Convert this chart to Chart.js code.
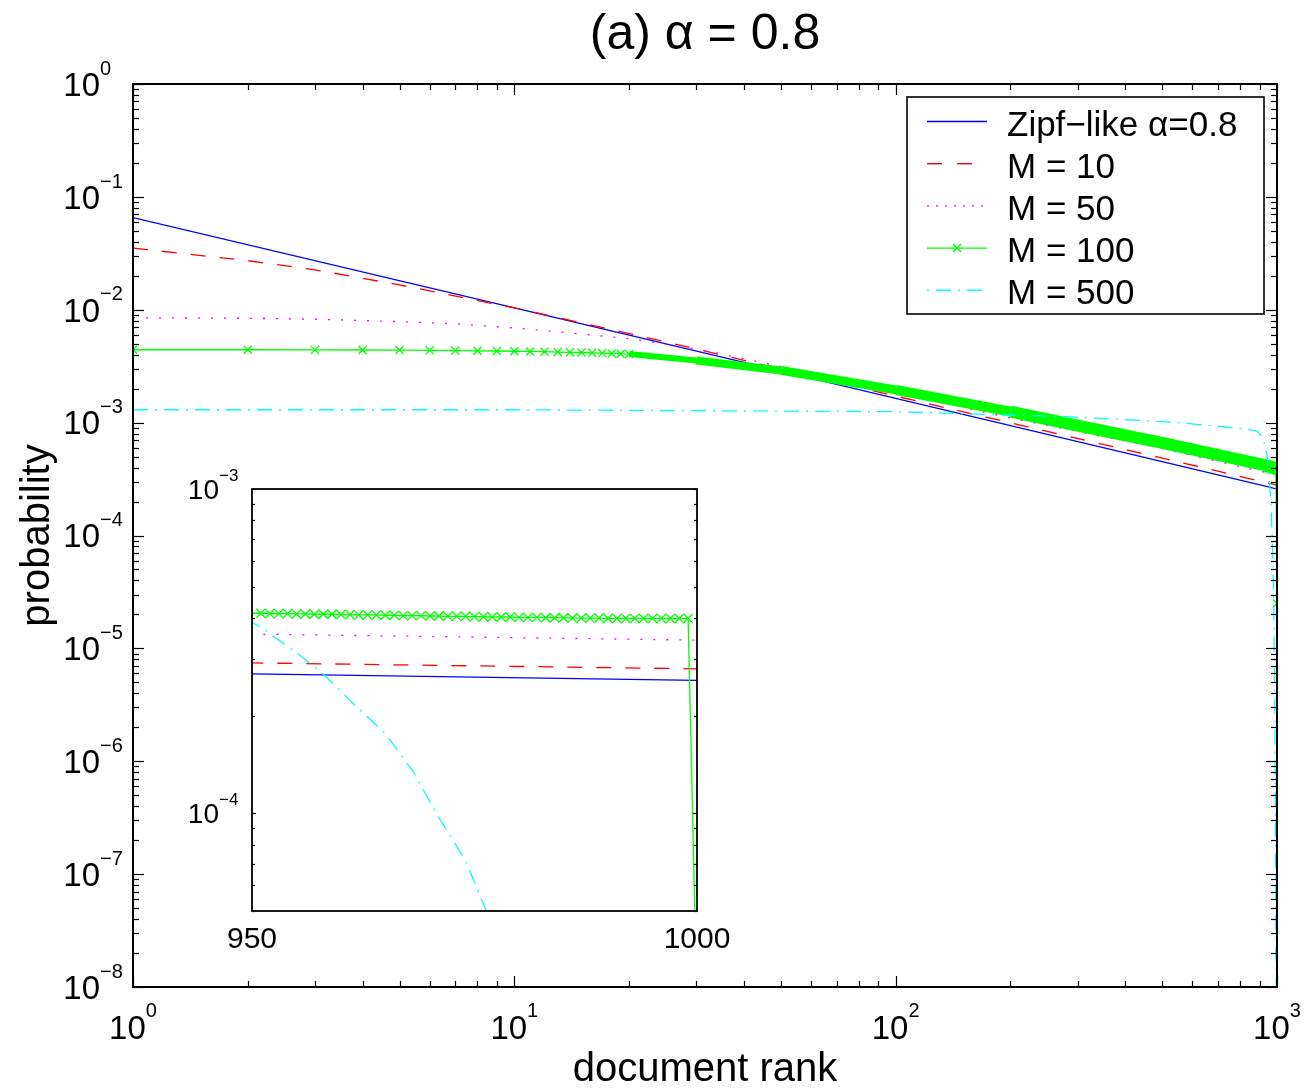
<!DOCTYPE html>
<html>
<head>
<meta charset="utf-8">
<title>(a) α = 0.8</title>
<script src="https://cdn.jsdelivr.net/npm/chart.js@4.4.1/dist/chart.umd.min.js"></script>
<style>
  html, body { margin: 0; padding: 0; background: #fff; }
  #box { position: relative; width: 1308px; height: 1089px; }
  #main { position: absolute; left: 0; top: 0; }
  #inset { position: absolute; left: 170px; top: 455px; }
</style>
</head>
<body>
<div id="box">
  <canvas id="main" width="1308" height="1089"></canvas>
  <canvas id="inset" width="580" height="500"></canvas>
</div>
<script>
const FONT = '"Liberation Sans", Arial, Helvetica, sans-serif';

// axes / tick labels
const xDecades = [0, 1, 2, 3];
const yDecades = [0, -1, -2, -3, -4, -5, -6, -7, -8];
const insetXTicks = [950, 1000];
const insetYDecades = [-3, -4];

const titleText = '(a) \u03b1 = 0.8';
const xTitle = 'document rank';
const yTitle = 'probability';
const seriesLabels = ['Zipf\u2212like \u03b1=0.8', 'M = 10', 'M = 50', 'M = 100', 'M = 500'];

// series
const zipfRank = [1, 10, 100, 950, 1000];
const zipfProb = [0.0655, 0.0104, 1.64e-3, 2.69e-4, 2.57e-4];

const m10Rank = [1, 2, 3, 5, 10, 20, 30, 50, 100, 200, 500, 950, 1000];
const m10Prob = [0.0352, 0.0272, 0.0226, 0.0166, 0.0104, 6.15e-3, 4.5e-3, 2.98e-3, 1.72e-3, 9.95e-4, 4.85e-4, 2.91e-4, 2.79e-4];

const m50Rank = [1, 2, 3, 5, 7, 10, 15, 20, 30, 50, 100, 200, 500, 950, 1000];
const m50Prob = [8.5e-3, 8.4e-3, 8.25e-3, 7.85e-3, 7.5e-3, 6.9e-3, 6.1e-3, 5.55e-3, 4.5e-3, 3.15e-3, 1.85e-3, 1.1e-3, 5.9e-4, 3.57e-4, 3.42e-4];

const m100Rank = [1, 2, 3, 4, 5, 6, 7, 8, 9, 10, 11, 12, 13, 14, 15, 16, 17, 18, 19, 20,
  30, 50, 100, 200, 300, 500,
  950, 951, 952, 953, 954, 955, 956, 957, 958, 959, 960, 961, 962, 963, 964, 965, 966, 967, 968, 969,
  970, 971, 972, 973, 974, 975, 976, 977, 978, 979, 980, 981, 982, 983, 984, 985, 986, 987, 988, 989,
  990, 991, 992, 993, 994, 995, 996, 997, 998, 999, 1000];
const m100Prob = [4.42e-3, 4.42e-3, 4.41e-3, 4.40e-3, 4.39e-3, 4.37e-3, 4.35e-3, 4.33e-3, 4.31e-3, 4.29e-3,
  4.27e-3, 4.25e-3, 4.22e-3, 4.20e-3, 4.18e-3, 4.15e-3, 4.13e-3, 4.10e-3, 4.08e-3, 4.05e-3,
  3.55e-3, 2.9e-3, 1.95e-3, 1.25e-3, 9.4e-4, 6.6e-4,
  4.14e-4, 4.14e-4, 4.13e-4, 4.13e-4, 4.13e-4, 4.12e-4, 4.12e-4, 4.11e-4, 4.11e-4, 4.11e-4,
  4.10e-4, 4.10e-4, 4.09e-4, 4.09e-4, 4.09e-4, 4.08e-4, 4.08e-4, 4.07e-4, 4.07e-4, 4.07e-4,
  4.06e-4, 4.06e-4, 4.05e-4, 4.05e-4, 4.05e-4, 4.04e-4, 4.04e-4, 4.03e-4, 4.03e-4, 4.03e-4,
  4.02e-4, 4.02e-4, 4.02e-4, 4.01e-4, 4.01e-4, 4.01e-4, 4.00e-4, 4.00e-4, 4.00e-4, 4.00e-4,
  3.99e-4, 3.99e-4, 3.99e-4, 3.99e-4, 3.99e-4, 3.99e-4, 3.99e-4, 3.99e-4, 3.99e-4, 3.99e-4, 2.5e-5];

const m500Rank = [1, 10, 100, 300, 550, 800, 887, 920, 940, 950, 951, 955, 958, 961, 965, 968, 971, 974, 976, 980, 985, 990, 995, 1000];
const m500Prob = [1.3e-3, 1.3e-3, 1.25e-3, 1.12e-3, 1.0e-3, 8.9e-4, 8.4e-4, 7.3e-4, 5.3e-4, 3.88e-4, 3.75e-4, 3.13e-4, 2.69e-4, 2.23e-4, 1.76e-4, 1.36e-4, 9.7e-5, 7.15e-5, 5.26e-5, 2.8e-5, 6e-6, 4e-7, 1e-8, 1e-10];

const BLUE = '#0000ff', RED = '#ff0000', MAGENTA = '#ff00ff', GREEN = '#00ff00', CYAN = '#00ffff';

function pts(ranks, probs) {
  return ranks.map((r, i) => ({ x: r, y: probs[i] }));
}

function expText(n) {
  return n < 0 ? '\u2212' + (-n) : String(n);
}

// "10" with raised exponent; y is the visual middle of the "10"
function drawPow(ctx, x, y, exp, baseSize, expSize, rise, align) {
  ctx.textBaseline = 'alphabetic';
  ctx.textAlign = 'left';
  ctx.font = baseSize + 'px ' + FONT;
  const bw = ctx.measureText('10').width;
  ctx.font = expSize + 'px ' + FONT;
  const es = expText(exp);
  const ew = ctx.measureText(es).width;
  const bx = align === 'right' ? x - bw : x - (bw + ew) / 2;
  ctx.font = baseSize + 'px ' + FONT;
  ctx.fillText('10', bx, y + 0.358 * baseSize);
  ctx.font = expSize + 'px ' + FONT;
  ctx.fillText(es, bx + bw, y - rise + 0.358 * expSize);
}

function logTicks(min, max) {
  const out = [];
  for (let e = Math.floor(Math.log10(min)); e <= Math.ceil(Math.log10(max)); e++) {
    for (let k = 1; k <= 9; k++) {
      const v = k * Math.pow(10, e);
      if (v >= min * 0.999 && v <= max * 1.001) out.push({ v: v, major: k === 1 });
    }
  }
  return out;
}

function seg(ctx, x1, y1, x2, y2) {
  ctx.beginPath();
  ctx.moveTo(x1, y1);
  ctx.lineTo(x2, y2);
  ctx.stroke();
}

const legendStyle = [
  { color: BLUE, dash: [] },
  { color: RED, dash: [15, 15] },
  { color: MAGENTA, dash: [2, 7] },
  { color: GREEN, dash: [], marker: true },
  { color: CYAN, dash: [2, 7, 15, 7] }
];

const mainDeco = {
  id: 'mainDeco',
  beforeDraw(chart) {
    const ctx = chart.ctx;
    ctx.save();
    ctx.fillStyle = '#fff';
    ctx.fillRect(0, 0, chart.width, chart.height);
    ctx.restore();
  },
  afterDraw(chart) {
    const ctx = chart.ctx, a = chart.chartArea;
    const xs = chart.scales.x, ys = chart.scales.y;
    ctx.save();
    ctx.strokeStyle = '#000';
    ctx.fillStyle = '#000';
    ctx.setLineDash([]);

    // ticks on all four sides
    ctx.lineWidth = 1.2;
    logTicks(xs.min, xs.max).forEach(t => {
      const px = Math.round(xs.getPixelForValue(t.v)) + 0.5;
      const len = t.major ? 11 : 6;
      seg(ctx, px, a.bottom, px, a.bottom - len);
      seg(ctx, px, a.top, px, a.top + len);
    });
    logTicks(ys.min, ys.max).forEach(t => {
      const py = Math.round(ys.getPixelForValue(t.v)) + 0.5;
      const len = t.major ? 11 : 6;
      seg(ctx, a.left, py, a.left + len, py);
      seg(ctx, a.right, py, a.right - len, py);
    });

    ctx.lineWidth = 2;
    ctx.strokeRect(a.left, a.top, a.right - a.left, a.bottom - a.top);

    // tick labels
    yDecades.forEach(e => {
      drawPow(ctx, a.left - 33, ys.getPixelForValue(Math.pow(10, e)), e, 33, 20, 16.5, 'right');
    });
    xDecades.forEach(e => {
      drawPow(ctx, xs.getPixelForValue(Math.pow(10, e)), a.bottom + 40.5, e, 33, 20, 18, 'center');
    });

    // titles
    ctx.textAlign = 'center';
    ctx.textBaseline = 'alphabetic';
    ctx.font = '50px ' + FONT;
    ctx.fillText(titleText, (a.left + a.right) / 2, 49);
    ctx.font = '40px ' + FONT;
    ctx.fillText(xTitle, (a.left + a.right) / 2, 1081);
    ctx.save();
    ctx.translate(49, (a.top + a.bottom) / 2);
    ctx.rotate(-Math.PI / 2);
    ctx.fillText(yTitle, 0, 0);
    ctx.restore();

    // legend
    const lx = 907, ly = 97, lw = 357, lh = 217;
    ctx.fillStyle = '#fff';
    ctx.fillRect(lx, ly, lw, lh);
    ctx.lineWidth = 1.6;
    ctx.strokeStyle = '#000';
    ctx.strokeRect(lx, ly, lw, lh);
    ctx.font = '35px ' + FONT;
    ctx.textAlign = 'left';
    seriesLabels.forEach((label, i) => {
      const cy = 123 + 42.2 * i;
      const st = legendStyle[i];
      ctx.strokeStyle = st.color;
      ctx.lineWidth = 1.4;
      ctx.setLineDash(st.dash);
      seg(ctx, 927, cy - 1.5, 987, cy - 1.5);
      ctx.setLineDash([]);
      if (st.marker) {
        const d = 4;
        seg(ctx, 957 - d, cy - 1.5 - d, 957 + d, cy - 1.5 + d);
        seg(ctx, 957 - d, cy - 1.5 + d, 957 + d, cy - 1.5 - d);
      }
      ctx.fillStyle = '#000';
      ctx.fillText(label, 1007, cy + 0.358 * 35);
    });
    ctx.restore();
  }
};

const insetDeco = {
  id: 'insetDeco',
  beforeDatasetsDraw(chart) {
    const ctx = chart.ctx, a = chart.chartArea;
    ctx.save();
    ctx.fillStyle = '#fff';
    ctx.fillRect(a.left, a.top, a.right - a.left, a.bottom - a.top);
    ctx.restore();
  },
  afterDraw(chart) {
    const ctx = chart.ctx, a = chart.chartArea;
    const xs = chart.scales.x, ys = chart.scales.y;
    ctx.save();
    ctx.strokeStyle = '#000';
    ctx.fillStyle = '#000';
    ctx.setLineDash([]);
    ctx.lineWidth = 1.2;
    logTicks(ys.min, ys.max).forEach(t => {
      const py = Math.round(ys.getPixelForValue(t.v)) + 0.5;
      const len = t.major ? 4 : 3;
      seg(ctx, a.left, py, a.left + len, py);
      seg(ctx, a.right, py, a.right - len, py);
    });
    ctx.lineWidth = 1.8;
    ctx.strokeRect(a.left, a.top, a.right - a.left, a.bottom - a.top);

    insetYDecades.forEach(e => {
      drawPow(ctx, a.left - 33, ys.getPixelForValue(Math.pow(10, e)), e, 28, 17, 14, 'right');
    });
    ctx.font = '30px ' + FONT;
    ctx.textAlign = 'center';
    ctx.textBaseline = 'alphabetic';
    insetXTicks.forEach(v => {
      ctx.fillText(String(v), xs.getPixelForValue(v), a.bottom + 26.5 + 0.358 * 30);
    });
    ctx.restore();
  }
};

function lineSet(label, data, color, dash, order) {
  return {
    label: label,
    data: data,
    borderColor: color,
    backgroundColor: color,
    borderWidth: 1.3,
    borderDash: dash,
    pointRadius: 0,
    fill: false,
    tension: 0,
    order: order
  };
}

function greenSet(radius) {
  return {
    label: seriesLabels[3],
    data: pts(m100Rank, m100Prob),
    borderColor: GREEN,
    borderWidth: 1.3,
    pointStyle: 'crossRot',
    pointRadius: radius,
    pointBorderColor: GREEN,
    pointBackgroundColor: 'rgba(0,0,0,0)',
    pointBorderWidth: 1.3,
    fill: false,
    tension: 0,
    order: 2
  };
}

// overlapping markers of M = 100 merge into a band; width grows with rank
function bandWidth(c) {
  const r = c.p0.parsed.x;
  if (r < 30) return 6;
  if (r < 50) return 8;
  if (r < 100) return 9;
  if (r < 200) return 10;
  return 12;
}

// main chart
new Chart(document.getElementById('main'), {
  type: 'line',
  data: {
    datasets: [
      lineSet(seriesLabels[0], pts(zipfRank, zipfProb), BLUE, [], 6),
      lineSet(seriesLabels[1], pts(m10Rank, m10Prob), RED, [15, 14], 5),
      lineSet(seriesLabels[2], pts(m50Rank, m50Prob), MAGENTA, [2, 11], 4),
      {
        label: 'M = 100 markers',
        data: pts(m100Rank, m100Prob).filter(p => p.x >= 20 && p.x < 1000),
        borderColor: GREEN,
        borderWidth: 11,
        pointRadius: 0,
        fill: false,
        tension: 0,
        order: 3,
        segment: { borderWidth: bandWidth }
      },
      greenSet(c => (c.raw.x <= 20 || c.raw.x >= 950) ? 5.7 : 0),
      lineSet(seriesLabels[4], pts(m500Rank, m500Prob), CYAN, [15, 7, 2, 7], 1)
    ]
  },
  options: {
    responsive: false,
    animation: false,
    events: [],
    layout: { padding: { left: 133, top: 84, right: 31, bottom: 102 } },
    plugins: { legend: { display: false }, title: { display: false }, tooltip: { enabled: false } },
    scales: {
      x: { type: 'logarithmic', min: 1, max: 1000, display: false },
      y: { type: 'logarithmic', min: 1e-8, max: 1, display: false }
    }
  },
  plugins: [mainDeco]
});

// inset chart
new Chart(document.getElementById('inset'), {
  type: 'line',
  data: {
    datasets: [
      lineSet(seriesLabels[0], pts(zipfRank, zipfProb), BLUE, [], 6),
      lineSet(seriesLabels[1], pts(m10Rank, m10Prob), RED, [15, 14], 5),
      lineSet(seriesLabels[2], pts(m50Rank, m50Prob), MAGENTA, [2, 11], 4),
      greenSet(c => (c.raw.x > 950 && c.raw.x < 1000) ? 6.4 : 0),
      lineSet(seriesLabels[4], pts(m500Rank, m500Prob), CYAN, [15, 7, 2, 7], 1)
    ]
  },
  options: {
    responsive: false,
    animation: false,
    events: [],
    layout: { padding: { left: 82, top: 34, right: 53, bottom: 44 } },
    plugins: { legend: { display: false }, title: { display: false }, tooltip: { enabled: false } },
    scales: {
      x: { type: 'linear', min: 950, max: 1000, display: false },
      y: { type: 'logarithmic', min: 5e-5, max: 1e-3, display: false }
    }
  },
  plugins: [insetDeco]
});
</script>
</body>
</html>
